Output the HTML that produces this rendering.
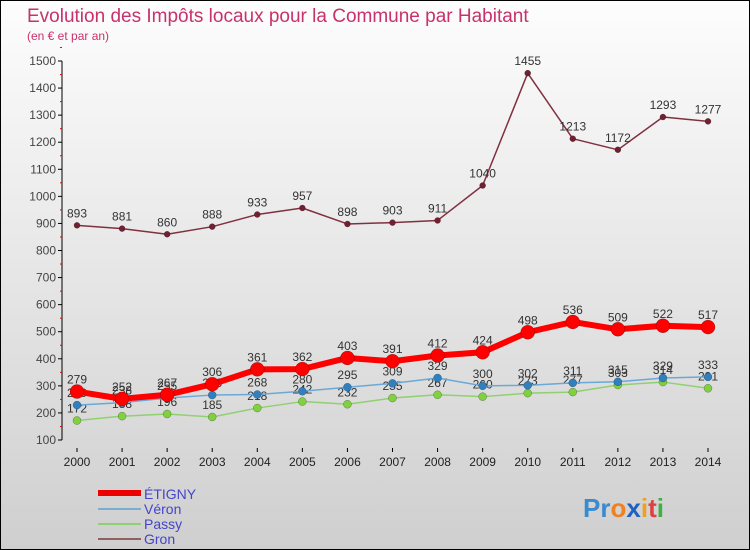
<!DOCTYPE html>
<html><head><meta charset="utf-8"><style>
body{margin:0}
#c{width:750px;height:550px;position:relative;overflow:hidden;background:linear-gradient(#fdfdfd,#cfcfcf);font-family:"Liberation Sans",sans-serif;border:1px solid #000;box-sizing:border-box}
svg text{font-family:"Liberation Sans",sans-serif}
</style></head><body>
<div id="c">
<svg id="s" width="750" height="550">
<text x="26" y="21" font-size="19" fill="#c8326a">Evolution des Impôts locaux pour la Commune par Habitant</text>
<text x="26" y="39" font-size="12" fill="#c8326a">(en € et par an)</text>
<g id="ax"></g><g id="ser"></g>
<g>
<line x1="97" y1="492" x2="140" y2="492" stroke="#e00" stroke-width="6"/><text x="143" y="498" font-size="14" fill="#44c">ÉTIGNY</text>
<line x1="97" y1="508" x2="140" y2="508" stroke="#7aaed0" stroke-width="2"/><text x="143" y="513" font-size="14" fill="#44c">Véron</text>
<line x1="97" y1="523" x2="140" y2="523" stroke="#90d070" stroke-width="2"/><text x="143" y="528" font-size="14" fill="#44c">Passy</text>
<line x1="97" y1="538" x2="140" y2="538" stroke="#906060" stroke-width="2"/><text x="143" y="543" font-size="14" fill="#44c">Gron</text>
</g>
<text x="582" y="516" font-size="26" font-weight="bold"><tspan fill="#3a8ad0">Pr</tspan><tspan fill="#f08020">o</tspan><tspan fill="#2060c0">x</tspan><tspan fill="#f0a020">i</tspan><tspan fill="#e04040">t</tspan><tspan fill="#40b040">i</tspan></text>
</svg></div>
<script>
const years=[2000,2001,2002,2003,2004,2005,2006,2007,2008,2009,2010,2011,2012,2013,2014];
const yTicks=[100,200,300,400,500,600,700,800,900,1000,1100,1200,1300,1400,1500];
const etigny=[279,252,267,306,361,362,403,391,412,424,498,536,509,522,517];
const veron=[229,238,255,266,268,280,295,309,329,300,302,311,315,329,333];
const passy=[172,188,196,185,218,242,232,255,267,260,273,277,303,314,291];
const gron=[893,881,860,888,933,957,898,903,911,1040,1455,1213,1172,1293,1277];
const NS="http://www.w3.org/2000/svg";
const X=i=>76+i*(707-76)/(years.length-1);
const Y=v=>439-(v-100)*(439-60)/1400;
function mk(t,a,p){const e=document.createElementNS(NS,t);for(const k in a)e.setAttribute(k,a[k]);p.appendChild(e);return e;}
const ax=document.getElementById('ax'),ser=document.getElementById('ser');
const yl=mk('line',{x1:61,y1:60,x2:61,y2:439,stroke:'#000'},ax);

yTicks.forEach(v=>{mk('line',{x1:57,y1:Y(v),x2:61,y2:Y(v),stroke:'#000'},ax);
mk('line',{x1:59,y1:Y(v+50),x2:61,y2:Y(v+50),stroke:'#e00'},ax);
const t=mk('text',{x:55,y:Y(v)+4,'font-size':12,fill:'#444','text-anchor':'end'},ax);t.textContent=v;
});
years.forEach((y,i)=>{mk('line',{x1:X(i),y1:447,x2:X(i),y2:451,stroke:'#000'},ax);
const t=mk('text',{x:X(i),y:465,'font-size':12,fill:'#222','text-anchor':'middle'},ax);t.textContent=y;
});
function draw(d,name,col,w,r,dot){const g=mk('g',{},ser);
mk('polyline',{points:d.map((v,i)=>X(i)+','+Y(v)).join(' '),fill:'none',stroke:col,'stroke-width':w,'stroke-linejoin':'round'},g);
d.forEach((v,i)=>{const c=mk('circle',{cx:X(i),cy:Y(v),r:r,fill:dot,stroke:'rgba(0,0,0,0.4)','stroke-width':0.5},g);

const t=mk('text',{x:X(i),y:Y(v)-8,'font-size':12,fill:'#333','text-anchor':'middle'},g);t.textContent=v;});}
draw(passy,'passy','#90d070',1.5,4,'#80d040');
draw(veron,'veron','#6aa8d8',1.5,4,'#3080c0');
draw(gron,'gron','#803040',1.5,3,'#702030');
draw(etigny,'etigny','#f00',6,7,'#f00');
</script></body></html>
